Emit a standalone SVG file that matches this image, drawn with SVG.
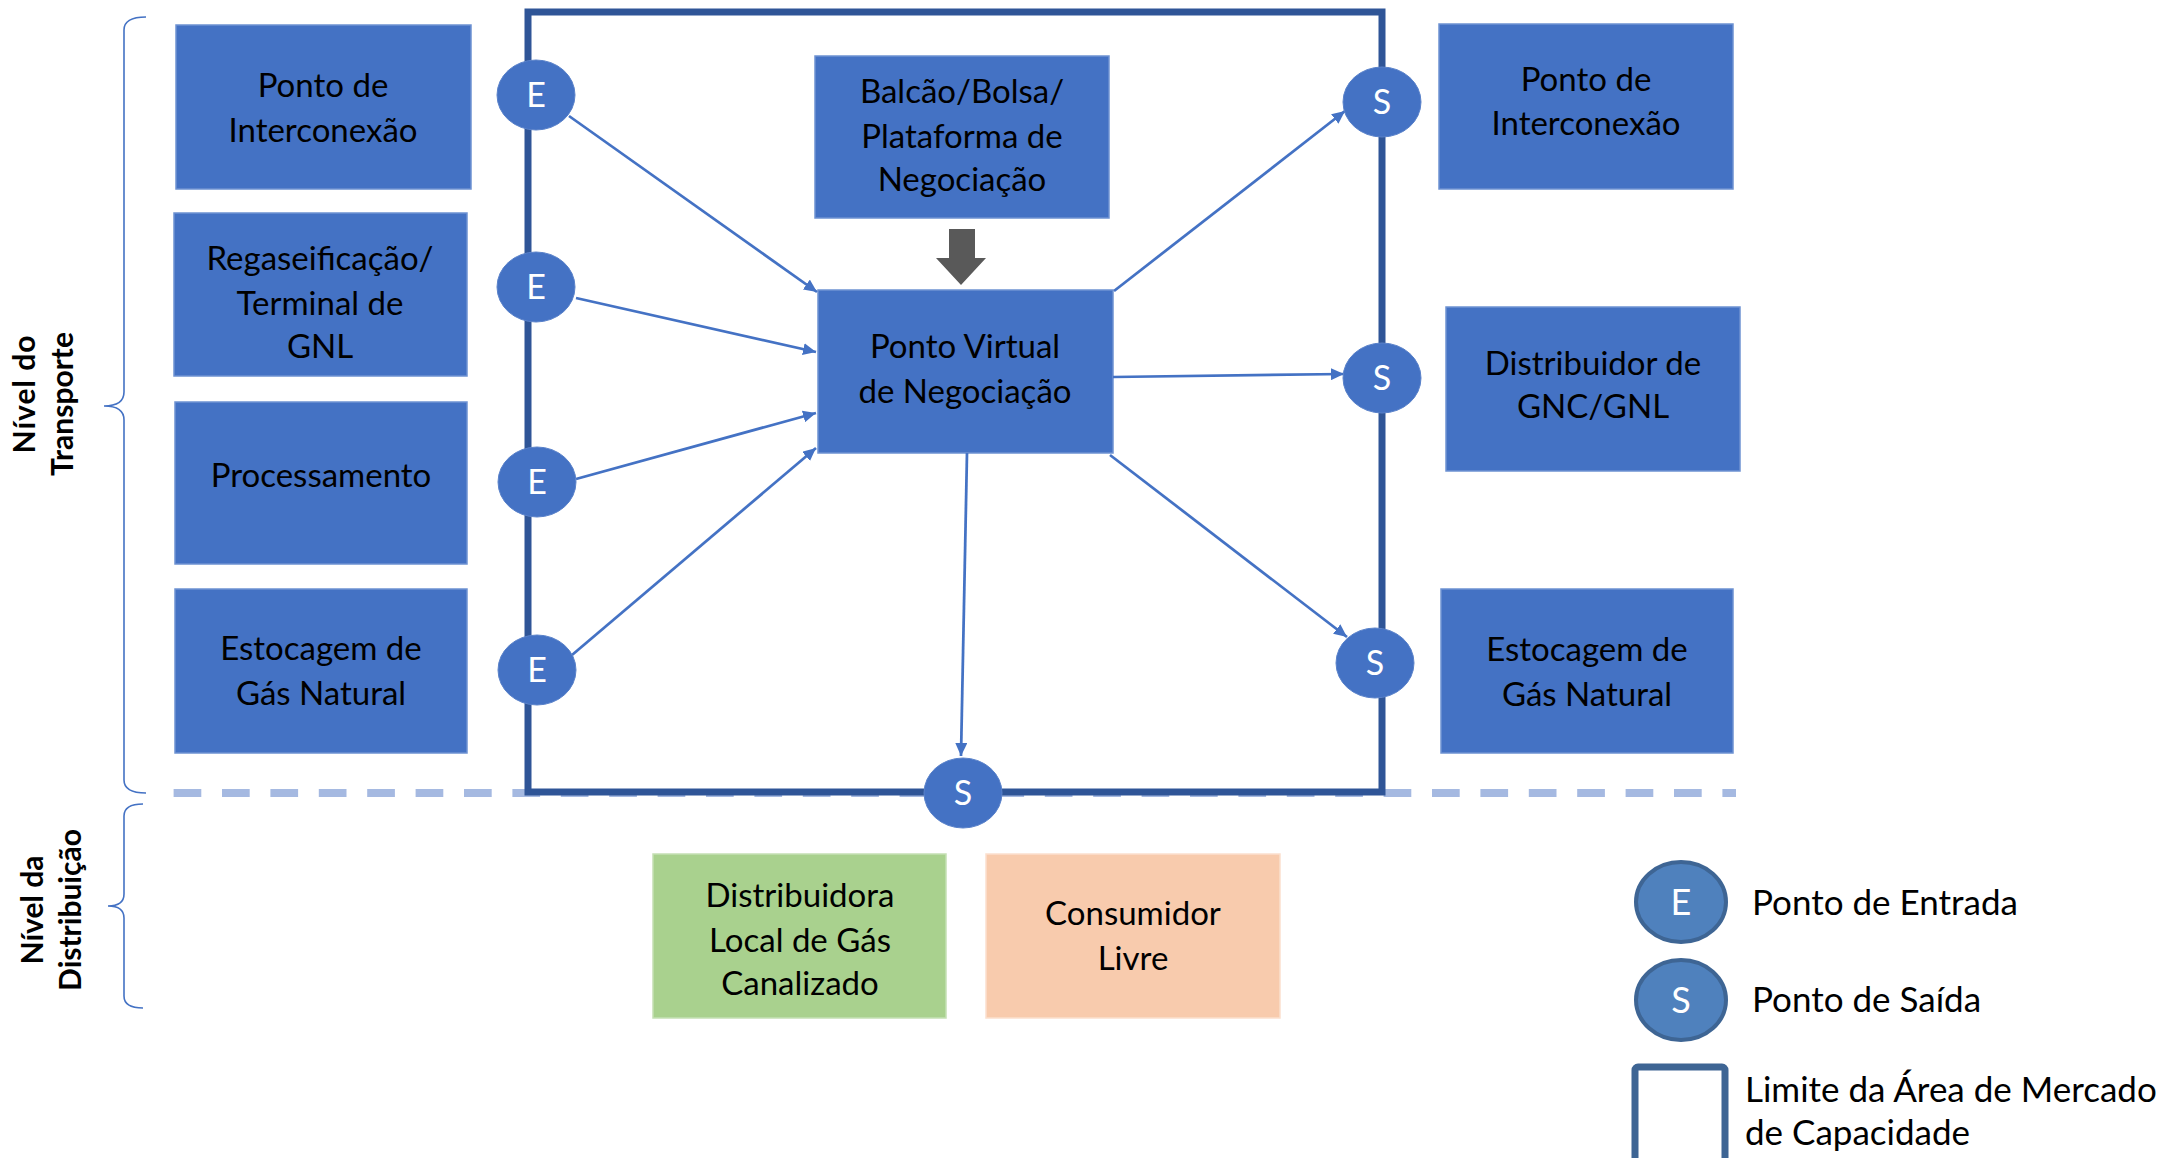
<svg xmlns="http://www.w3.org/2000/svg" width="2159" height="1158" viewBox="0 0 2159 1158">
  <style>
    .box { fill: #4472C4; stroke: #6E92D2; stroke-width: 1.5; }
    .green { fill: #A9D18E; stroke: #C5E0B4; stroke-width: 1.5; }
    .peach { fill: #F8CBAD; stroke: #FBE0CE; stroke-width: 1.5; }
    .lbl { font-family: Lato, "Liberation Sans", sans-serif; font-size: 33px; fill: #000; text-anchor: middle; }
    .pt { fill: #4472C4; stroke: #5A82CA; stroke-width: 1; }
    .ptl { font-family: Lato, "Liberation Sans", sans-serif; font-size: 34px; fill: #fff; text-anchor: middle; }
    .conn { stroke: #4472C4; stroke-width: 2.75; fill: none; marker-end: url(#arr); }
    .brace { stroke: #4472C4; stroke-width: 1.6; fill: none; }
    .lvl { font-family: Lato, "Liberation Sans", sans-serif; font-size: 30px; font-weight: bold; fill: #000; text-anchor: middle; }
    .leg { font-family: Lato, "Liberation Sans", sans-serif; font-size: 35px; fill: #000; }
    .legpt { fill: #4F81BD; stroke: #3E6594; stroke-width: 4; }
  </style>
  <defs>
    <marker id="arr" markerUnits="userSpaceOnUse" markerWidth="14" markerHeight="12" refX="13" refY="6" orient="auto">
      <path d="M0,0 L13,6 L0,12 z" fill="#4472C4"/>
    </marker>
  </defs>

  <!-- level braces and labels -->
  <g id="nivel-transporte">
    <path class="brace" d="M146,17 Q124,17 124,30 L124,392 Q124,406 104,406 Q124,406 124,420 L124,780 Q124,793 146,793"/>
    <text class="lvl" transform="translate(35,394) rotate(-90)" letter-spacing="1">Nível do</text>
    <text class="lvl" transform="translate(73,404) rotate(-90)">Transporte</text>
  </g>
  <g id="nivel-distribuicao">
    <path class="brace" d="M143,804 Q124,804 124,816 L124,894 Q124,906 108,906 Q124,906 124,918 L124,996 Q124,1008 143,1008"/>
    <text class="lvl" transform="translate(43,910) rotate(-90)">Nível da</text>
    <text class="lvl" transform="translate(81,910) rotate(-90)">Distribuição</text>
  </g>

  <!-- boundary between transport and distribution -->
  <line x1="173.6" y1="793" x2="1736" y2="793" stroke="#A5B9E1" stroke-width="8" stroke-dasharray="27.7 20.7"/>

  <!-- capacity market area boundary -->
  <rect id="area-mercado" x="528" y="12" width="854" height="780" fill="none" stroke="#2F5597" stroke-width="7"/>

  <!-- sources -->
  <g id="src-interconexao">
    <rect class="box" x="176" y="25" width="295" height="164"/>
    <text class="lbl" x="323" y="97">Ponto de</text>
    <text class="lbl" x="323" y="142">Interconexão</text>
  </g>
  <g id="src-regaseificacao">
    <rect class="box" x="174" y="213" width="293" height="163"/>
    <text class="lbl" x="320" y="270">Regaseificação/</text>
    <text class="lbl" x="320" y="315">Terminal de</text>
    <text class="lbl" x="320" y="358">GNL</text>
  </g>
  <g id="src-processamento">
    <rect class="box" x="175" y="402" width="292" height="162"/>
    <text class="lbl" x="321" y="487">Processamento</text>
  </g>
  <g id="src-estocagem">
    <rect class="box" x="175" y="589" width="292" height="164"/>
    <text class="lbl" x="321" y="660">Estocagem de</text>
    <text class="lbl" x="321" y="705">Gás Natural</text>
  </g>

  <!-- trading -->
  <g id="balcao">
    <rect class="box" x="815" y="56" width="294" height="162"/>
    <text class="lbl" x="962" y="103">Balcão/Bolsa/</text>
    <text class="lbl" x="962" y="148">Plataforma de</text>
    <text class="lbl" x="962" y="191">Negociação</text>
  </g>
  <g id="seta-balcao">
    <path d="M949,229 L975,229 L975,258 L986,258 L961,285 L936,258 L949,258 z" fill="#595959"/>
  </g>
  <g id="pvn">
    <rect class="box" x="818" y="290" width="295" height="163"/>
    <text class="lbl" x="965" y="358">Ponto Virtual</text>
    <text class="lbl" x="965" y="403">de Negociação</text>
  </g>

  <!-- destinations -->
  <g id="dst-interconexao">
    <rect class="box" x="1439" y="24" width="294" height="165"/>
    <text class="lbl" x="1586" y="91">Ponto de</text>
    <text class="lbl" x="1586" y="135">Interconexão</text>
  </g>
  <g id="dst-gnc-gnl">
    <rect class="box" x="1446" y="307" width="294" height="164"/>
    <text class="lbl" x="1593" y="375">Distribuidor de</text>
    <text class="lbl" x="1593" y="418">GNC/GNL</text>
  </g>
  <g id="dst-estocagem">
    <rect class="box" x="1441" y="589" width="292" height="164"/>
    <text class="lbl" x="1587" y="661">Estocagem de</text>
    <text class="lbl" x="1587" y="706">Gás Natural</text>
  </g>
  <g id="dst-distribuidora">
    <rect class="green" x="653" y="854" width="293" height="164"/>
    <text class="lbl" x="800" y="907">Distribuidora</text>
    <text class="lbl" x="800" y="952">Local de Gás</text>
    <text class="lbl" x="800" y="995">Canalizado</text>
  </g>
  <g id="dst-consumidor">
    <rect class="peach" x="986" y="854" width="294" height="164"/>
    <text class="lbl" x="1133" y="925">Consumidor</text>
    <text class="lbl" x="1133" y="970">Livre</text>
  </g>

  <!-- connectors -->
  <g id="connectors">
    <line class="conn" x1="569" y1="116" x2="817" y2="292"/>
    <line class="conn" x1="576" y1="298" x2="816" y2="352"/>
    <line class="conn" x1="576" y1="479" x2="816" y2="413"/>
    <line class="conn" x1="572" y1="655" x2="816" y2="448"/>
    <line class="conn" x1="1114" y1="291" x2="1345" y2="111"/>
    <line class="conn" x1="1113" y1="377" x2="1344" y2="374"/>
    <line class="conn" x1="1110" y1="455" x2="1347" y2="637"/>
    <line class="conn" x1="967" y1="453" x2="961" y2="756"/>
  </g>

  <!-- entry points -->
  <g id="e1"><ellipse class="pt" cx="536" cy="95" rx="39" ry="35"/><text class="ptl" x="536" y="107">E</text></g>
  <g id="e2"><ellipse class="pt" cx="536" cy="287" rx="39" ry="35"/><text class="ptl" x="536" y="299">E</text></g>
  <g id="e3"><ellipse class="pt" cx="537" cy="482" rx="39" ry="35"/><text class="ptl" x="537" y="494">E</text></g>
  <g id="e4"><ellipse class="pt" cx="537" cy="670" rx="39" ry="35"/><text class="ptl" x="537" y="682">E</text></g>

  <!-- exit points -->
  <g id="s1"><ellipse class="pt" cx="1382" cy="102" rx="39" ry="35"/><text class="ptl" x="1382" y="114">S</text></g>
  <g id="s2"><ellipse class="pt" cx="1382" cy="378" rx="39" ry="35"/><text class="ptl" x="1382" y="390">S</text></g>
  <g id="s3"><ellipse class="pt" cx="1375" cy="663" rx="39" ry="35"/><text class="ptl" x="1375" y="675">S</text></g>
  <g id="s4"><ellipse class="pt" cx="963" cy="793" rx="39" ry="35"/><text class="ptl" x="963" y="805">S</text></g>

  <!-- legend -->
  <g id="legend">
    <ellipse class="legpt" cx="1681" cy="902" rx="45" ry="40"/>
    <text class="ptl" x="1681" y="915" style="font-size:36px">E</text>
    <text class="leg" x="1752" y="915">Ponto de Entrada</text>
    <ellipse class="legpt" cx="1681" cy="1000" rx="45" ry="40"/>
    <text class="ptl" x="1681" y="1013" style="font-size:36px">S</text>
    <text class="leg" x="1752" y="1012">Ponto de Saída</text>
    <rect x="1635" y="1067" width="90" height="100" rx="3" fill="none" stroke="#3E6594" stroke-width="7"/>
    <text class="leg" x="1745" y="1102">Limite da Área de Mercado</text>
    <text class="leg" x="1745" y="1145">de Capacidade</text>
  </g>
</svg>
